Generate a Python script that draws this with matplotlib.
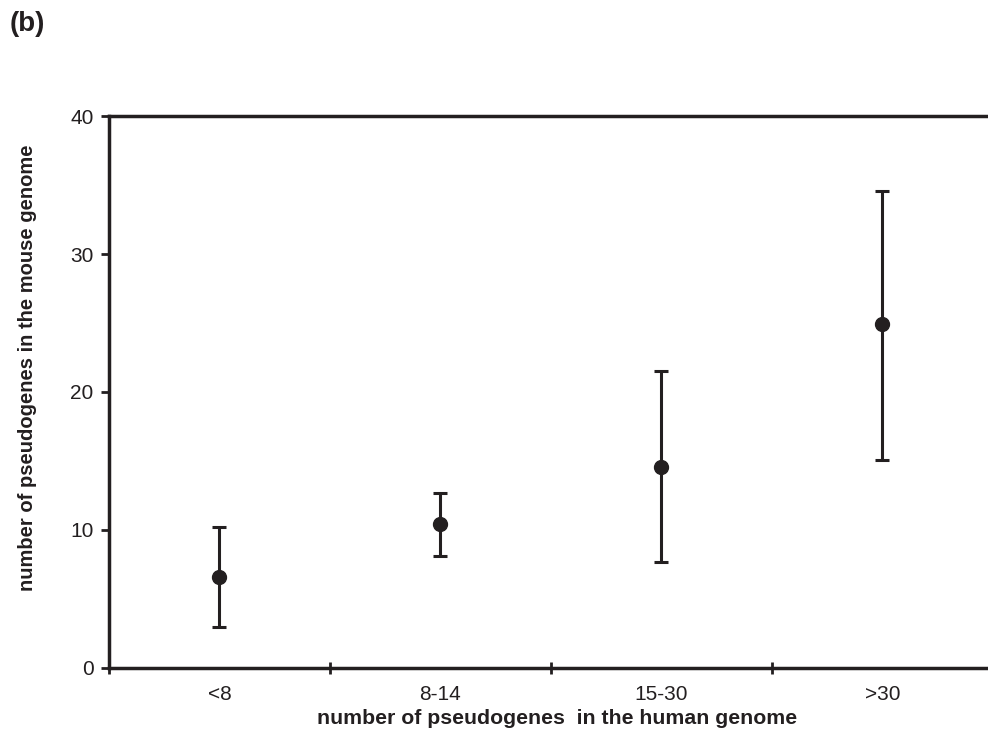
import matplotlib.pyplot as plt
import numpy as np

plt.rcParams['font.family'] = ['Liberation Sans', 'DejaVu Sans']

categories = ['<8', '8-14', '15-30', '>30']
means = [6.6, 10.4, 14.6, 24.9]
upper = [10.2, 12.7, 21.5, 34.6]
lower = [3.0, 8.1, 7.7, 15.1]

ink = '#231f20'

fig = plt.figure(figsize=(9.88, 7.38), dpi=100)
ax = fig.add_axes([0.1103, 0.0949, 1.005 - 0.1103, 0.8428 - 0.0949])

x = np.arange(len(categories)) + 0.5
means = np.array(means)
yerr = [means - np.array(lower), np.array(upper) - means]
ax.errorbar(x, means, yerr=yerr, fmt='o', color=ink, ms=10,
            elinewidth=2.2, capsize=5, capthick=2.2, clip_on=False)

ax.set_xlim(0, len(categories))
ax.set_ylim(0, 40)
ax.set_xticks(np.arange(len(categories) + 1))
ax.set_xticklabels([])
ax.set_xticks(x, minor=True)
ax.set_xticklabels(categories, minor=True)
ax.set_yticks([0, 10, 20, 30, 40])

ax.tick_params(axis='x', which='major', direction='inout', length=9, width=2, color=ink)
ax.tick_params(axis='x', which='minor', length=0, pad=12, labelsize=15, labelcolor=ink)
ax.tick_params(axis='y', direction='out', length=6, width=2, color=ink,
               labelsize=15, labelcolor=ink, pad=5)

for s in ['left', 'bottom', 'top']:
    ax.spines[s].set_linewidth(2.5)
    ax.spines[s].set_color(ink)
ax.spines['right'].set_visible(False)

fig.text(557 / 988, 1 - 719 / 738, 'number of pseudogenes  in the human genome',
         ha='center', va='center', fontsize=15.3, fontweight='bold', color=ink)
fig.text(28 / 988, 1 - 368 / 738, 'number of pseudogenes in the mouse genome',
         ha='center', va='center', rotation=90, fontsize=14.5, fontweight='bold', color=ink)
fig.text(10 / 988, 1 - 24 / 738, '(b)', ha='left', va='center',
         fontsize=20, fontweight='bold', color=ink)

plt.savefig('out.png', dpi=100)
